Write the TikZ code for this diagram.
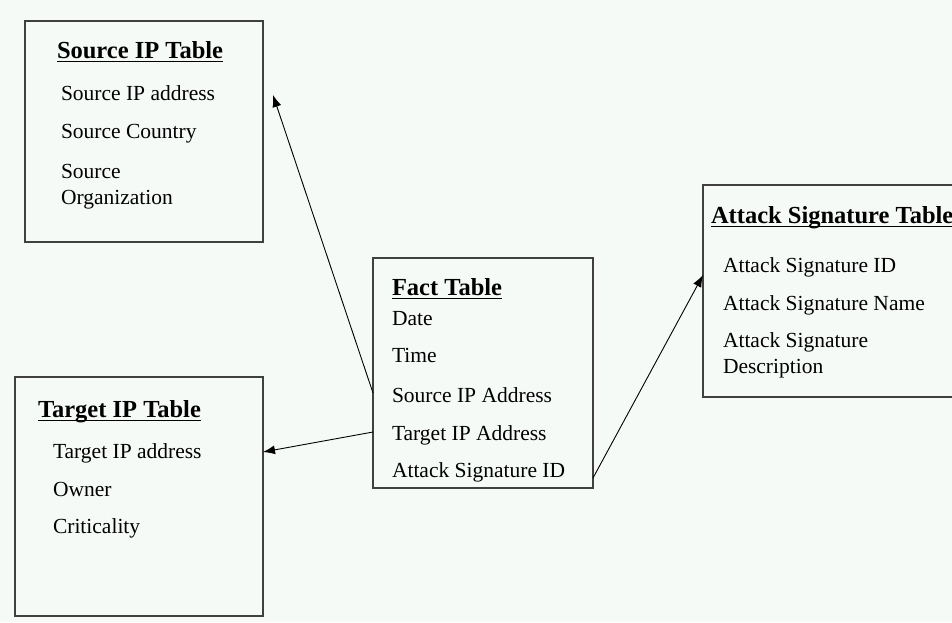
\documentclass[tikz,border=0pt]{standalone}
\usepackage{fontspec}
\setmainfont{Liberation Serif}
\usetikzlibrary{arrows.meta}
\definecolor{paper}{HTML}{F6FAF7}
\tikzset{
    every node/.style={inner sep=0pt, outer sep=0pt}
}
\tikzset{
    tablebox/.style={rectangle, draw=black!75, line width=1.6pt},
    tabtitle/.style={anchor=base west, text depth=3.5pt,
        font=\fontsize{24.5}{28}\selectfont\bfseries,
        append after command={(\tikzlastnode.south west) edge[line width=1.5pt]
            (\tikzlastnode.south east)}},
    field/.style={anchor=base west, align=left, font=\fontsize{21.5}{26}\selectfont},
    link/.style={-{Latex[length=12pt,width=9pt]}, line width=0.9pt}
}

\begin{document}
\begin{tikzpicture}[x=1pt, y=-1pt]
	\fill[paper] (0,0) rectangle (952,622);
	\useasboundingbox (0,0) rectangle (952,622);
	% table boxes
	\node [tablebox, minimum width=238pt, minimum height=221pt] (src) at (144,131.5) {};
	\node [tablebox, minimum width=248pt, minimum height=239pt] (tgt) at (139,496.5) {};
	\node [tablebox, minimum width=220pt, minimum height=230pt] (fact) at (483,373) {};
	\node [tablebox, minimum width=262pt, minimum height=212pt] (sig) at (834,291) {};
	% source ip table
	\node [tabtitle] (srct) at (57,58) {Source IP Table};
	\node [field] (src1) at (61,100) {Source IP address};
	\node [field] (src2) at (61,138) {Source Country};
	\node [field] (src3) at (61,204) {Source\\Organization};
	% target ip table
	\node [tabtitle] (tgtt) at (38,417) {Target IP Table};
	\node [field] (tgt1) at (53,458) {Target IP address};
	\node [field] (tgt2) at (53,496) {Owner};
	\node [field] (tgt3) at (53,533) {Criticality};
	% fact table
	\node [tabtitle] (factt) at (392,295) {Fact Table};
	\node [field] (fact1) at (392,325) {Date};
	\node [field] (fact2) at (392,362) {Time};
	\node [field] (fact3) at (392,402) {Source IP Address};
	\node [field] (fact4) at (392,440) {Target IP Address};
	\node [field] (fact5) at (392,477) {Attack Signature ID};
	% attack signature table
	\node [tabtitle] (sigt) at (711,223) {Attack Signature Table};
	\node [field] (sig1) at (723,272) {Attack Signature ID};
	\node [field] (sig2) at (723,310) {Attack Signature Name};
	\node [field] (sig3) at (723,373) {Attack Signature\\Description};
	\coordinate (srctip) at ([xshift=10pt,yshift=-74pt]src.north east);
	\draw [link] ([yshift=-135pt]fact.north west) -- (srctip);
	\draw [link] ([yshift=-174pt]fact.north west) -- ([yshift=-75pt]tgt.north east);
	\draw [link] ([yshift=10pt]fact.south east) -- ([yshift=-90pt]sig.north west);
\end{tikzpicture}
\end{document}
